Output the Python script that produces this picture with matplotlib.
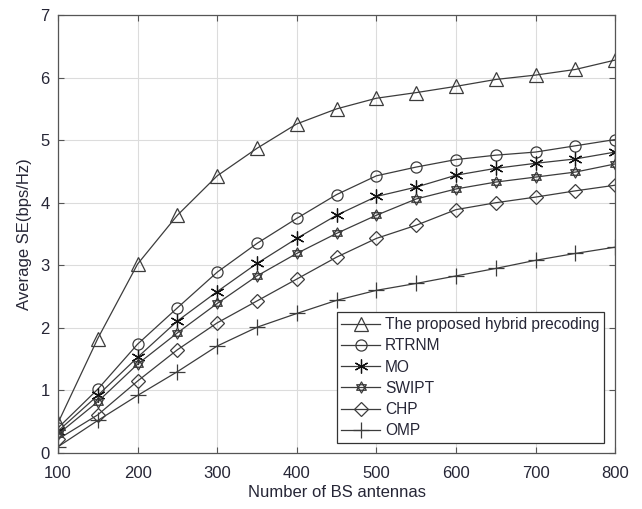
import matplotlib
matplotlib.use("Agg")
import matplotlib.pyplot as plt
from matplotlib.path import Path
import numpy as np

plt.rcParams['font.family'] = ['Liberation Sans', 'DejaVu Sans']

antennas = [100, 150, 200, 250, 300, 350, 400, 450, 500, 550, 600, 650, 700, 750, 800]
proposed = [0.48, 1.83, 3.02, 3.80, 4.43, 4.87, 5.26, 5.50, 5.67, 5.76, 5.86, 5.97, 6.04, 6.13, 6.28]
rtrnm = [0.40, 1.02, 1.74, 2.32, 2.89, 3.35, 3.75, 4.13, 4.43, 4.57, 4.69, 4.76, 4.81, 4.91, 5.01]
mo = [0.35, 0.92, 1.53, 2.11, 2.58, 3.03, 3.43, 3.80, 4.10, 4.25, 4.44, 4.55, 4.63, 4.70, 4.81]
swipt = [0.30, 0.82, 1.42, 1.92, 2.39, 2.83, 3.19, 3.51, 3.80, 4.06, 4.22, 4.33, 4.41, 4.49, 4.62]
chp = [0.22, 0.61, 1.15, 1.65, 2.08, 2.43, 2.78, 3.13, 3.43, 3.64, 3.89, 4.00, 4.09, 4.19, 4.28]
omp = [0.10, 0.52, 0.92, 1.30, 1.71, 2.01, 2.23, 2.44, 2.60, 2.71, 2.83, 2.95, 3.08, 3.19, 3.29]

labels = ['The proposed hybrid precoding', 'RTRNM', 'MO', 'SWIPT', 'CHP', 'OMP']
xticks = [100, 200, 300, 400, 500, 600, 700, 800]
yticks = [0, 1, 2, 3, 4, 5, 6, 7]

# hexagram marker (two overlapping triangles)
ang_up = np.deg2rad([90, 210, 330])
ang_dn = np.deg2rad([270, 30, 150])
verts = []
codes = []
for ang in (ang_up, ang_dn):
    pts = [(np.cos(a), np.sin(a)) for a in ang]
    verts += pts + [pts[0]]
    codes += [Path.MOVETO, Path.LINETO, Path.LINETO, Path.CLOSEPOLY]
hexagram = Path(verts, codes)

fig = plt.figure(figsize=(6.42, 5.09), dpi=100)
ax = fig.add_axes([0.0903, 0.110, 0.868, 0.8605])

lc = '#3c3c3c'
series = [proposed, rtrnm, mo, swipt, chp, omp]
markers = ['^', 'o', (6, 2, 0), hexagram, 'D', '+']
msizes = [9.5, 8, 10, 8, 7, 11]
for ys, lab, m, ms in zip(series, labels, markers, msizes):
    ax.plot(antennas, ys, color=lc, lw=0.9, marker=m, markersize=ms,
            markerfacecolor='none', markeredgecolor=lc if m != (6, 2, 0) else '#111111',
            markeredgewidth=0.9, label=lab)

ax.set_xlim(100, 800)
ax.set_ylim(0, 7)
ax.set_xticks(xticks)
ax.set_yticks(yticks)
ax.grid(True, color='#dcdcdc', lw=0.8)
ax.set_axisbelow(True)
for sp in ax.spines.values():
    sp.set_color('#555555')
    sp.set_linewidth(0.9)
ax.tick_params(direction='in', length=4, color='#555555', labelsize=12,
               labelcolor='#262636', top=True, right=True, labeltop=False, labelright=False)
ax.tick_params(axis='x', pad=9)
ax.tick_params(axis='y', pad=6)
ax.set_xlabel('Number of BS antennas', fontsize=12, color='#262636', labelpad=3)
ax.set_ylabel('Average SE(bps/Hz)', fontsize=12, color='#262636', labelpad=6)

leg = ax.legend(loc='lower right', fontsize=11.2, frameon=True, fancybox=False,
                edgecolor='#333333', framealpha=1, borderpad=0.3, labelspacing=0.4,
                handlelength=2.5, handletextpad=0.3, borderaxespad=0,
                bbox_to_anchor=(0.98, 0.023))
leg.get_frame().set_linewidth(0.9)
for t in leg.get_texts():
    t.set_color('#262636')

fig.savefig('out.png', dpi=100)
